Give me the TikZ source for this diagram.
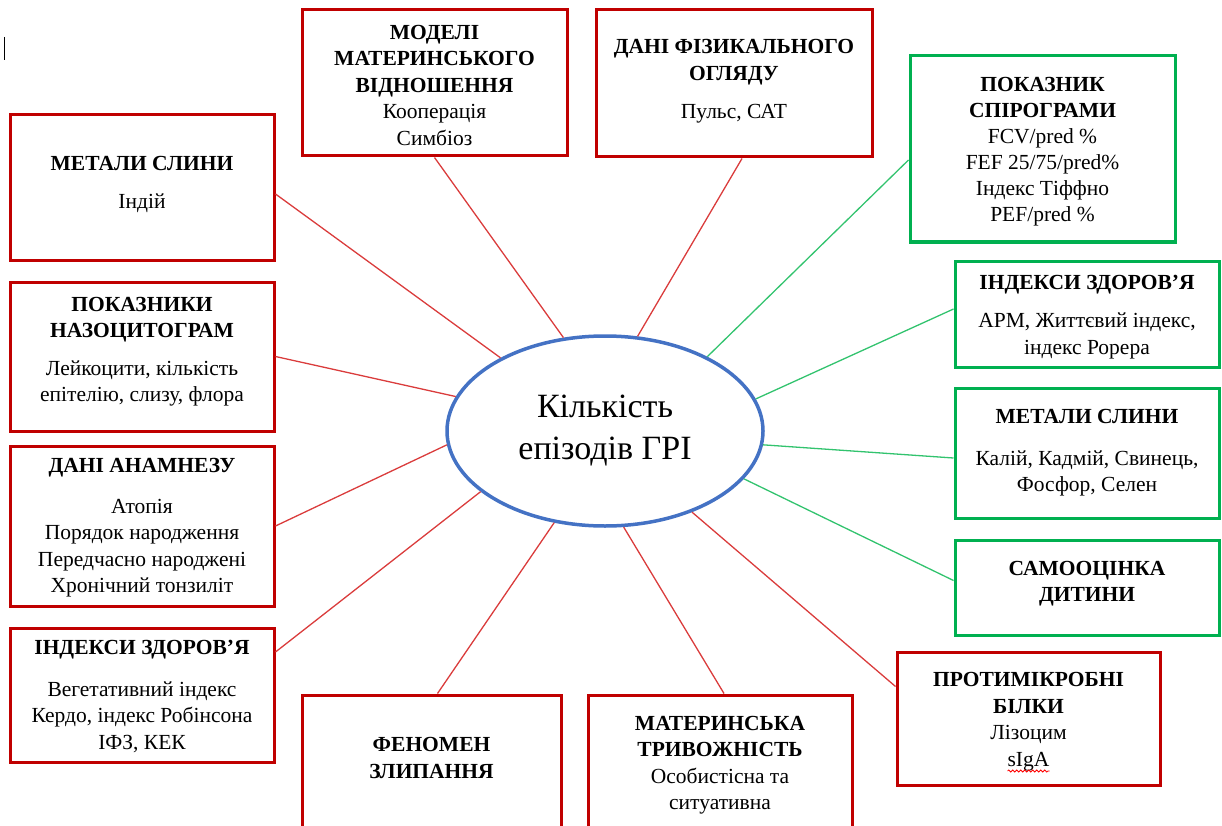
\documentclass[tikz,border=0pt]{standalone}
\usepackage{fontspec}
\setmainfont{Liberation Serif}
\usetikzlibrary{shapes.geometric,decorations.pathmorphing}
\definecolor{boxred}{RGB}{192,0,0}
\definecolor{boxgreen}{RGB}{0,176,80}
\definecolor{linered}{RGB}{218,60,60}
\definecolor{linegreen}{RGB}{50,195,110}
\definecolor{ellblue}{RGB}{68,114,196}
\newcommand\hd[1]{\textbf{#1}}
\begin{document}
\begin{tikzpicture}[x=1pt,y=-1pt,
  box/.style={draw, line width=3pt, rectangle, inner sep=0pt},
  redbox/.style={box, draw=boxred},
  greenbox/.style={box, draw=boxgreen},
  txt/.style={inner sep=0pt, align=center, font=\fontsize{21.5}{26.5}\selectfont},
  rl/.style={draw=linered, line width=1.3pt},
  gl/.style={draw=linegreen, line width=1.3pt},
  hub/.style={ellipse, draw=ellblue, line width=3.5pt, inner sep=0pt, align=center, font=\fontsize{34}{42}\selectfont}
]
\useasboundingbox (0,0) rectangle (1222,826);
\clip (0,0) rectangle (1222,826);

% cursor mark
\draw[line width=1.2pt] (4.5,37) -- (4.5,60);

% hub
\node[hub, minimum width=316pt, minimum height=190pt] (c) at (605,431) {Кількість\\епізодів ГРІ};

% left column
\node[redbox, minimum width=264pt, minimum height=145pt] (m1) at (142,187.5) {};
\node[txt] (m1t) at ([yshift=3pt]m1.center) {\hd{МЕТАЛИ СЛИНИ}\\[12pt]Індій};
\node[redbox, minimum width=264pt, minimum height=149pt] (nz) at (142,356.5) {};
\node[txt] (nzt) at ([yshift=5pt]nz.center) {\hd{ПОКАЗНИКИ}\\\hd{НАЗОЦИТОГРАМ}\\[11pt]Лейкоцити, кількість\\епітелію, слизу, флора};
\node[redbox, minimum width=264pt, minimum height=160pt] (an) at (142,526) {};
\node[txt] (ant) at ([yshift=-2pt]an.center) {\hd{ДАНІ АНАМНЕЗУ}\\[14pt]Атопія\\Порядок народження\\Передчасно народжені\\Хронічний тонзиліт};
\node[redbox, minimum width=264pt, minimum height=134pt] (il) at (142,695) {};
\node[txt] (ilt) at ([yshift=-1.5pt]il.center) {\hd{ІНДЕКСИ ЗДОРОВ’Я}\\[15pt]Вегетативний індекс\\Кердо, індекс Робінсона\\ІФЗ, КЕК};

% bottom
\node[redbox, minimum width=259pt, minimum height=140pt] (fe) at (431.5,765) {};
\node[txt] (fet) at ([yshift=7pt]fe.center) {\hd{ФЕНОМЕН}\\\hd{ЗЛИПАННЯ}};
\node[redbox, minimum width=264pt, minimum height=140pt] (mt) at (720,765) {};
\node[txt] (mtt) at (mt.center) {\hd{МАТЕРИНСЬКА}\\\hd{ТРИВОЖНІСТЬ}\\Особистісна та\\ситуативна};
\node[redbox, minimum width=263pt, minimum height=133pt] (pb) at (1028.5,718.5) {};
\node[txt] (pbt) at ([yshift=-3pt]pb.center) {\hd{ПРОТИМІКРОБНІ}\\\hd{БІЛКИ}\\Лізоцим\\sIgA};

% right column
\node[greenbox, minimum width=264pt, minimum height=95pt] (so) at (1087,587.5) {};
\node[txt] (sot) at ([yshift=4pt]so.center) {\hd{САМООЦІНКА}\\\hd{ДИТИНИ}};
\node[greenbox, minimum width=264pt, minimum height=130pt] (mr) at (1087,453) {};
\node[txt] (mrt) at (mr.center) {\hd{МЕТАЛИ СЛИНИ}\\[15pt]Калій, Кадмій, Свинець,\\Фосфор, Селен};
\node[greenbox, minimum width=264pt, minimum height=106pt] (ir) at (1087,314) {};
\node[txt] (irt) at ([yshift=-3pt]ir.center) {\hd{ІНДЕКСИ ЗДОРОВ’Я}\\[12pt]АРМ, Життєвий індекс,\\індекс Рорера};
\node[greenbox, minimum width=265pt, minimum height=186pt] (sp) at (1042.5,149) {};
\node[txt, font=\fontsize{21.5}{26}\selectfont] (spt) at ([yshift=-3pt]sp.center) {\hd{ПОКАЗНИК}\\\hd{СПІРОГРАМИ}\\FCV/pred \%\\FEF 25/75/pred\%\\Індекс Тіффно\\PEF/pred \%};

% top
\node[redbox, minimum width=276pt, minimum height=147pt] (fo) at (734,83.5) {};
\node[txt] (fot) at ([yshift=2pt]fo.center) {\hd{ДАНІ ФІЗИКАЛЬНОГО}\\\hd{ОГЛЯДУ}\\[12pt]Пульс, САТ};
\node[redbox, minimum width=265pt, minimum height=146pt] (mo) at (434.5,83) {};
\node[txt] (mot) at ([yshift=-2pt]mo.center) {\hd{МОДЕЛІ}\\\hd{МАТЕРИНСЬКОГО}\\\hd{ВІДНОШЕННЯ}\\Кооперація\\Симбіоз};

% spell-check underline under sIgA
\draw[red, line width=0.8pt, decorate, decoration={snake, amplitude=1pt, segment length=4pt}] ([xshift=-21pt,yshift=-49.5pt]pbt.center) -- ([xshift=21pt,yshift=-49.5pt]pbt.center);

% connectors
\draw[rl] ([yshift=-6.5pt]m1.east) -- (c.145.7);
\draw[rl] (nz.east) -- (c.167.3);
\draw[rl] (an.east) -- (c.185);
\draw[rl] ([yshift=43pt]il.east) -- (c.206.8);
\draw[rl] ([xshift=6pt]fe.north) -- (c.241.9);
\draw[rl] ([xshift=4pt]mt.north) -- (c.281.4);
\draw[rl] ([yshift=32pt]pb.west) -- (c.317.4);
\draw[gl] ([yshift=7pt]so.west) -- (c.341.4);
\draw[gl] ([yshift=-5pt]mr.west) -- (c.355.3);
\draw[gl] ([yshift=5pt]ir.west) -- (c.12.8);
\draw[gl] ([yshift=-11pt]sp.west) -- (c.36);
\draw[rl] ([xshift=8pt]fo.south) -- (c.71.9);
\draw[rl] (mo.south) -- (c.114.4);
\end{tikzpicture}
\end{document}
